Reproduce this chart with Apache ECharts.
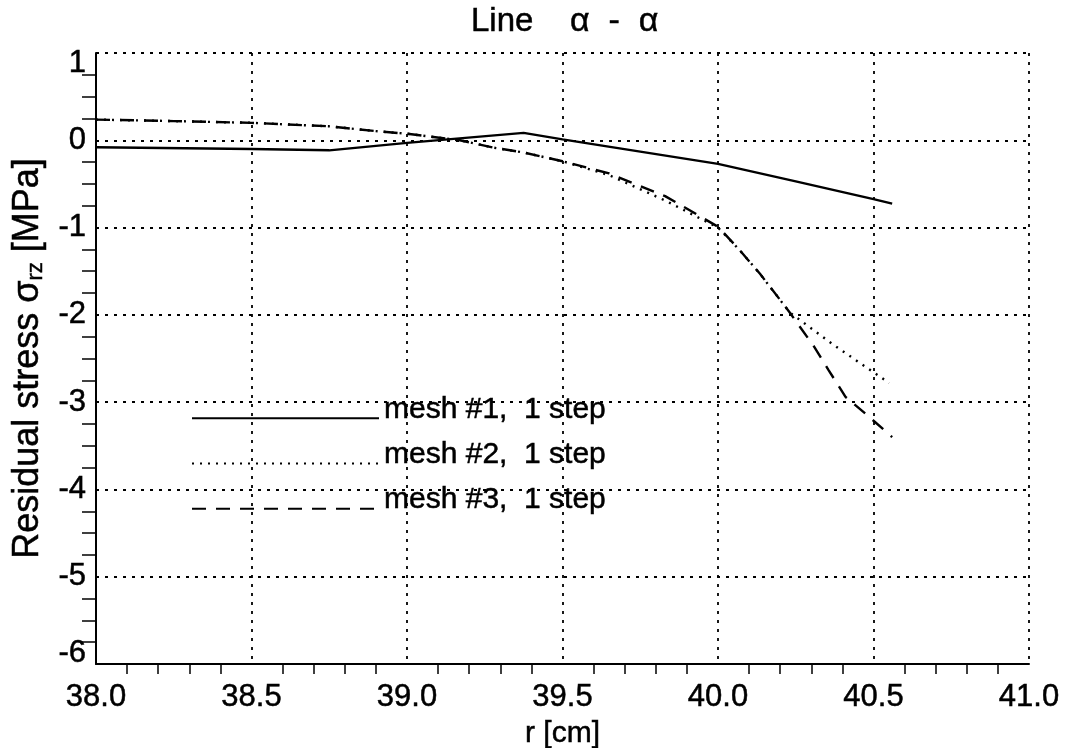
<!DOCTYPE html>
<html>
<head>
<meta charset="utf-8">
<title>Line α - α</title>
<script src="https://cdn.jsdelivr.net/npm/echarts@6/dist/echarts.min.js"></script>
<style>
  html, body { margin: 0; padding: 0; background: #fff; }
  #chart { width: 1070px; height: 748px; }
</style>
</head>
<body>
<div id="chart"></div>
<script>
// Radial position r [cm] and residual shear stress σrz [MPa] along line α-α
const mesh1R = [38.0, 38.5, 38.75, 39.0, 39.375, 39.5, 39.75, 40.0, 40.25, 40.5, 40.56];
const mesh1S = [-0.08, -0.10, -0.115, -0.03, 0.085, 0.01, -0.13, -0.27, -0.47, -0.675, -0.725];

const mesh2R = [38.0, 38.25, 38.5, 38.75, 38.9, 39.0, 39.17, 39.28, 39.375, 39.5, 39.65, 39.83, 40.0, 40.07, 40.135, 40.2, 40.23, 40.37, 40.55];
const mesh2S = [0.237, 0.22, 0.20, 0.16, 0.105, 0.075, 0.0, -0.085, -0.14, -0.24, -0.40, -0.69, -1.0, -1.26, -1.53, -1.83, -1.97, -2.34, -2.78];

const mesh3R = [38.0, 38.25, 38.5, 38.75, 38.9, 39.0, 39.17, 39.28, 39.375, 39.5, 39.65, 39.83, 40.0, 40.07, 40.135, 40.2, 40.23, 40.31, 40.355, 40.41, 40.48, 40.56];
const mesh3S = [0.237, 0.22, 0.20, 0.16, 0.105, 0.075, 0.0, -0.085, -0.14, -0.24, -0.38, -0.64, -0.99, -1.26, -1.53, -1.83, -1.97, -2.37, -2.63, -2.94, -3.15, -3.40];

const seriesNames = ['mesh #1,  1 step', 'mesh #2,  1 step', 'mesh #3,  1 step'];

const FONT = '"Liberation Sans", Arial, Helvetica, sans-serif';
// slight outline to give the glyphs the heavier look of the printed labels
const INK = { color: '#000', textBorderColor: '#000', textBorderWidth: 0.5 };

function pairs(xs, ys) { return xs.map((x, i) => [x, ys[i]]); }

const gridDots = { color: '#000', width: 1.8, type: [3, 6] };

const Y_MIN = -6, Y_MAX = 1;

const chart = echarts.init(document.getElementById('chart'), null, { renderer: 'canvas' });

chart.setOption({
  backgroundColor: '#fff',
  animation: false,
  title: {
    text: 'Line    {g|α  -  α}',
    left: 466,
    top: 0,
    textStyle: Object.assign({
      fontFamily: FONT, fontSize: 33, fontWeight: 'normal',
      rich: { g: Object.assign({ fontFamily: FONT, fontSize: 34 }, INK) }
    }, INK)
  },
  grid: { left: 96, right: 41, top: 53, bottom: 84, containLabel: false, outerBoundsMode: 'none' },
  legend: {
    orient: 'vertical',
    left: 186,
    top: 389,
    itemWidth: 187,
    itemHeight: 14,
    itemGap: -3,
    data: seriesNames,
    itemStyle: { opacity: 0 },
    formatter: name => '{t|' + name + '}',
    textStyle: Object.assign({
      fontFamily: FONT, fontSize: 30,
      rich: { t: Object.assign({ fontFamily: FONT, fontSize: 30, lineHeight: 30, padding: [0, 0, 18, 0] }, INK) }
    }, INK)
  },
  xAxis: {
    type: 'value',
    min: 38,
    max: 41,
    interval: 0.5,
    name: 'r [cm]',
    nameLocation: 'middle',
    nameGap: 50,
    nameTextStyle: Object.assign({ fontFamily: FONT, fontSize: 30 }, INK),
    axisLine: { show: true, onZero: false, lineStyle: { color: '#000', width: 2 } },
    axisTick: { show: false },
    minorTick: { show: true, splitNumber: 5, length: 10, lineStyle: { color: '#000', width: 1.5 } },
    axisLabel: Object.assign({
      fontFamily: FONT, fontSize: 31, margin: 18,
      formatter: v => v.toFixed(1)
    }, INK),
    splitLine: { show: true, lineStyle: gridDots },
    minorSplitLine: { show: false }
  },
  yAxis: {
    type: 'value',
    min: Y_MIN,
    max: Y_MAX,
    interval: 1,
    name: 'Residual stress σ{sub|rz} [MPa]',
    nameLocation: 'middle',
    nameRotate: 90,
    nameGap: 49,
    nameTextStyle: Object.assign({
      fontFamily: FONT, fontSize: 36,
      rich: { sub: Object.assign({ fontFamily: FONT, fontSize: 22, verticalAlign: 'bottom', padding: [15, 0, 0, 0] }, INK) }
    }, INK),
    axisLine: { show: true, onZero: false, lineStyle: { color: '#000', width: 2 } },
    axisTick: { show: false },
    minorTick: { show: true, splitNumber: 4, length: 14, lineStyle: { color: '#000', width: 1.5 } },
    axisLabel: Object.assign({
      fontFamily: FONT, fontSize: 31, margin: 10,
      // end labels sit inside the frame: top one nudged down, bottom one nudged up
      formatter: v => v === Y_MAX ? '{hi|' + v + '}' : (v === Y_MIN ? '{lo|' + v + '}' : String(v)),
      rich: {
        hi: Object.assign({ fontFamily: FONT, fontSize: 31, padding: [20, 0, 0, 0] }, INK),
        lo: Object.assign({ fontFamily: FONT, fontSize: 31, padding: [0, 0, 22, 0] }, INK)
      }
    }, INK),
    splitLine: { show: true, lineStyle: gridDots },
    minorSplitLine: { show: false }
  },
  series: [
    {
      name: seriesNames[0], type: 'line', symbol: 'none', z: 5,
      data: pairs(mesh1R, mesh1S),
      lineStyle: { color: '#000', width: 2.4, type: 'solid' },
      itemStyle: { color: '#000' }
    },
    {
      name: seriesNames[1], type: 'line', symbol: 'none', z: 5,
      data: pairs(mesh2R, mesh2S),
      lineStyle: { color: '#000', width: 2.4, type: [2, 6] },
      itemStyle: { color: '#000' }
    },
    {
      name: seriesNames[2], type: 'line', symbol: 'none', z: 5,
      data: pairs(mesh3R, mesh3S),
      lineStyle: { color: '#000', width: 2.4, type: [14, 10] },
      itemStyle: { color: '#000' }
    }
  ]
});
</script>
</body>
</html>
